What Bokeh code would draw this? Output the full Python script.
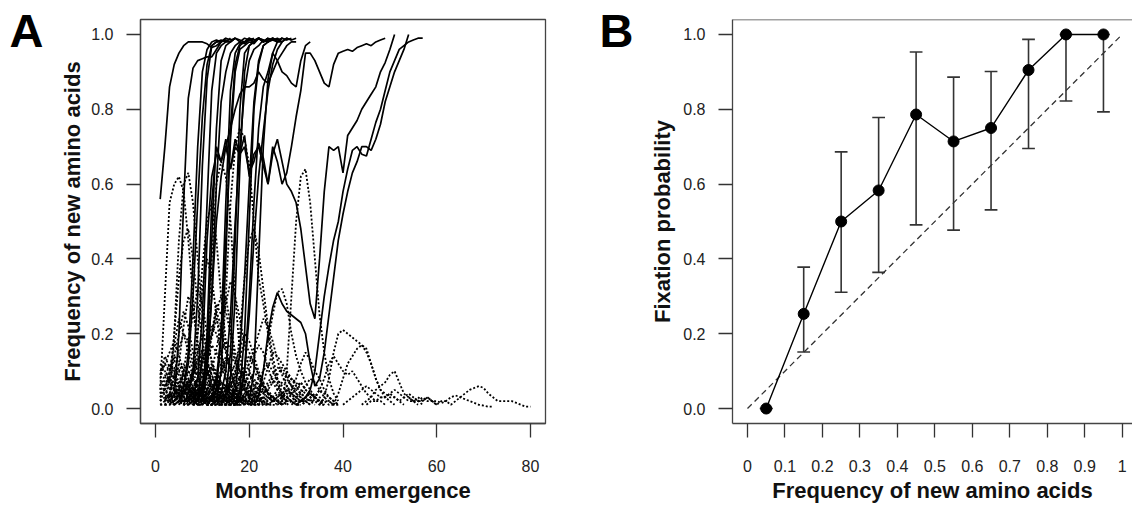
import numpy as np
from bokeh.plotting import figure
from bokeh.layouts import row
from bokeh.models import (FixedTicker, CustomJSTickFormatter, PrintfTickFormatter, Span,
                          LinearAxis)
from bokeh.embed import file_html
from bokeh.resources import INLINE

# ---------------- Panel A data ----------------
a_xticks = [0, 20, 40, 60, 80]
a_yticks = [0.0, 0.2, 0.4, 0.6, 0.8, 1.0]

# trajectories that reached fixation (solid): first month + monthly frequency
fixed_start = [1, 4, 5, 6, 7, 4, 8, 9, 9, 10, 10, 13, 15, 13, 17, 20, 21, 30, 11, 14, 16, 12, 17, 18]
fixed_freq = [
    [0.56, 0.70, 0.86, 0.92, 0.95, 0.97, 0.98, 0.98, 0.98, 0.98, 0.975, 0.965, 0.97, 0.98, 0.99],
    [0.03, 0.2, 0.55, 0.83, 0.91, 0.93, 0.935, 0.94, 0.94, 0.96, 0.98],
    [0.02, 0.05, 0.15, 0.4, 0.7, 0.9, 0.96, 0.98, 0.985, 0.98, 0.99, 0.985, 0.99],
    [0.01, 0.04, 0.1, 0.3, 0.65, 0.88, 0.97, 0.98, 0.98, 0.985, 0.98, 0.99],
    [0.02, 0.03, 0.08, 0.25, 0.55, 0.85, 0.95, 0.97, 0.98, 0.98, 0.99, 0.98, 0.99, 0.985, 0.99],
    [0.02, 0.04, 0.06, 0.12, 0.3, 0.55, 0.78, 0.92, 0.97, 0.98, 0.985, 0.98, 0.99],
    [0.01, 0.03, 0.06, 0.15, 0.45, 0.75, 0.93, 0.97, 0.98, 0.99, 0.985, 0.98, 0.99, 0.985, 0.99],
    [0.02, 0.05, 0.12, 0.3, 0.6, 0.82, 0.9, 0.95, 0.97, 0.98, 0.975, 0.985, 0.98, 0.99, 0.98, 0.99],
    [0.02, 0.15, 0.45, 0.62, 0.68, 0.66, 0.7, 0.64, 0.72, 0.68, 0.7, 0.63, 0.66, 0.71, 0.67,
     0.6, 0.68, 0.72, 0.66, 0.6, 0.58, 0.55, 0.48, 0.38, 0.28, 0.24, 0.4, 0.58, 0.7, 0.69,
     0.7, 0.63, 0.73, 0.75, 0.77, 0.8, 0.82, 0.84, 0.86, 0.9, 0.925, 0.96, 1.0],
    [0.02, 0.2, 0.55, 0.7, 0.66, 0.72, 0.64, 0.7, 0.68, 0.73, 0.62, 0.68, 0.7, 0.65, 0.6,
     0.7, 0.66, 0.6, 0.63, 0.7, 0.78, 0.85, 0.95, 0.95, 0.93, 0.9, 0.87, 0.86, 0.92, 0.95,
     0.955, 0.96, 0.955, 0.965, 0.97, 0.975, 0.97, 0.98, 0.985, 0.99],
    [0.02, 0.1, 0.3, 0.5, 0.62, 0.7, 0.75, 0.8, 0.84, 0.86, 0.86, 0.87, 0.9, 0.88, 0.87,
     0.9, 0.93, 0.95, 0.97, 0.98, 0.98],
    [0.02, 0.1, 0.4, 0.75, 0.92, 0.97, 0.98, 0.985, 0.98, 0.99, 0.98, 0.99],
    [0.02, 0.08, 0.3, 0.65, 0.9, 0.97, 0.98, 0.99, 0.985, 0.98, 0.99, 0.985, 0.99],
    [0.02, 0.04, 0.1, 0.25, 0.5, 0.7, 0.85, 0.93, 0.96, 0.97, 0.985, 0.98, 0.99],
    [0.01, 0.05, 0.2, 0.5, 0.8, 0.92, 0.97, 0.98, 0.99, 0.98, 0.99, 0.985, 0.99],
    [0.02, 0.1, 0.4, 0.7, 0.88, 0.95, 0.98, 0.98, 0.99, 0.985, 0.99],
    [0.01, 0.03, 0.1, 0.2, 0.27, 0.31, 0.28, 0.26, 0.25, 0.24, 0.23, 0.2, 0.12, 0.06, 0.08,
     0.15, 0.25, 0.35, 0.45, 0.52, 0.58, 0.63, 0.66, 0.7, 0.7, 0.69, 0.72, 0.76, 0.82, 0.86,
     0.9, 0.93, 0.96, 1.0],
    [0.01, 0.02, 0.03, 0.05, 0.1, 0.2, 0.3, 0.38, 0.45, 0.5, 0.58, 0.64, 0.69, 0.7, 0.68,
     0.675, 0.72, 0.765, 0.8, 0.85, 0.9, 0.93, 0.96, 0.97, 0.98, 0.985, 0.99, 0.99],
    [0.01, 0.03, 0.08, 0.2, 0.45, 0.72, 0.9, 0.96, 0.97, 0.98, 0.975, 0.99, 0.98, 0.99, 0.985, 0.99, 0.98],
    [0.01, 0.04, 0.15, 0.45, 0.8, 0.95, 0.97, 0.98, 0.99, 0.98, 0.985, 0.99, 0.98, 0.99],
    [0.02, 0.05, 0.15, 0.35, 0.6, 0.82, 0.93, 0.97, 0.98, 0.985, 0.98, 0.99, 0.985],
    [0.02, 0.05, 0.2, 0.55, 0.85, 0.95, 0.975, 0.98, 0.99, 0.98, 0.99, 0.985],
    [0.01, 0.03, 0.1, 0.25, 0.45, 0.62, 0.74, 0.85, 0.92, 0.96, 0.98, 0.99, 0.985],
    [0.02, 0.1, 0.3, 0.55, 0.75, 0.86, 0.9, 0.95, 0.93, 0.9, 0.89, 0.87, 0.86, 0.93, 0.97, 0.98],
]

# trajectories that were lost (dotted): first month + monthly frequency
lost_start = [1, 3, 13, 10, 27, 21, 35, 38, 44, 55, 54, 7, 16, 2,
              1, 1, 1, 2, 2, 3, 1, 3, 4, 5, 5, 6, 6, 7, 8, 8, 9, 10, 11, 12, 13, 14, 15, 16,
              18, 19, 21, 23, 25, 27, 2, 4, 7, 10, 9, 14, 20, 26, 30, 33, 40, 45, 5, 12, 17,
              1, 1, 1, 2, 2, 3, 3, 4, 4, 5, 6, 6, 7, 8, 8, 9, 10, 11, 12, 13, 14, 15, 16, 17,
              18, 20, 22, 24, 26, 28, 31, 1, 3, 6, 11, 2, 9, 1,
              1, 1, 1, 1, 2, 3, 4, 5, 6, 7, 8, 9, 10, 11, 12, 13, 15, 17, 19, 22, 25, 29, 1, 2, 3]
lost_freq = [
    [0.05, 0.3, 0.55, 0.6, 0.62, 0.58, 0.45, 0.3, 0.15, 0.08, 0.04, 0.02, 0.01],
    [0.02, 0.2, 0.45, 0.6, 0.63, 0.55, 0.4, 0.25, 0.12, 0.06, 0.03, 0.01],
    [0.02, 0.1, 0.3, 0.55, 0.7, 0.75, 0.72, 0.65, 0.5, 0.35, 0.28, 0.2, 0.12, 0.07, 0.03, 0.02],
    [0.02, 0.15, 0.4, 0.6, 0.66, 0.62, 0.5, 0.3, 0.15, 0.07, 0.03],
    [0.02, 0.1, 0.3, 0.5, 0.62, 0.64, 0.55, 0.4, 0.25, 0.15, 0.08, 0.04, 0.02],
    [0.02, 0.05, 0.1, 0.18, 0.25, 0.31, 0.32, 0.28, 0.2, 0.14, 0.1, 0.07, 0.05, 0.03, 0.02],
    [0.01, 0.03, 0.08, 0.15, 0.2, 0.21, 0.2, 0.19, 0.18, 0.17, 0.15, 0.12, 0.08, 0.05, 0.03, 0.02, 0.01],
    [0.01, 0.04, 0.08, 0.12, 0.14, 0.16, 0.17, 0.16, 0.12, 0.08, 0.05, 0.04, 0.03, 0.03, 0.02, 0.01],
    [0.01, 0.02, 0.03, 0.05, 0.06, 0.07, 0.09, 0.1, 0.07, 0.04, 0.03, 0.02, 0.02, 0.01],
    [0.02, 0.02, 0.03, 0.02, 0.02, 0.01, 0.02, 0.02, 0.01, 0.02, 0.03, 0.04, 0.05, 0.055,
     0.06, 0.055, 0.04, 0.03, 0.02, 0.02, 0.02, 0.02, 0.015, 0.01, 0.005, 0.005],
    [0.03, 0.02, 0.03, 0.02, 0.03, 0.02, 0.02, 0.015, 0.02, 0.03, 0.035, 0.03, 0.025, 0.02,
     0.015, 0.01, 0.008, 0.005, 0.005],
    [0.02, 0.08, 0.2, 0.38, 0.5, 0.55, 0.45, 0.3, 0.18, 0.1, 0.05, 0.02],
    [0.02, 0.08, 0.2, 0.35, 0.45, 0.48, 0.42, 0.32, 0.22, 0.14, 0.08, 0.04, 0.02],
    [0.02, 0.08, 0.2, 0.35, 0.45, 0.48, 0.4, 0.28, 0.18, 0.1, 0.05, 0.03],
    [0.02, 0.05, 0.08, 0.06, 0.04, 0.03, 0.02, 0.01],
    [0.03, 0.06, 0.1, 0.14, 0.12, 0.09, 0.06, 0.04, 0.03, 0.02, 0.01],
    [0.01, 0.02, 0.04, 0.03, 0.05, 0.07, 0.05, 0.03, 0.02, 0.02, 0.01, 0.01],
    [0.02, 0.04, 0.09, 0.16, 0.2, 0.18, 0.12, 0.08, 0.05, 0.03, 0.02],
    [0.01, 0.03, 0.05, 0.04, 0.02, 0.03, 0.04, 0.06, 0.05, 0.03, 0.02, 0.01],
    [0.02, 0.06, 0.12, 0.22, 0.3, 0.26, 0.18, 0.1, 0.06, 0.03, 0.02],
    [0.04, 0.08, 0.12, 0.1, 0.07, 0.08, 0.1, 0.08, 0.05, 0.03, 0.02, 0.01],
    [0.01, 0.02, 0.03, 0.05, 0.08, 0.1, 0.09, 0.07, 0.05, 0.04, 0.03, 0.02, 0.01],
    [0.02, 0.05, 0.1, 0.18, 0.25, 0.32, 0.28, 0.2, 0.12, 0.07, 0.04, 0.02],
    [0.01, 0.03, 0.06, 0.09, 0.13, 0.15, 0.12, 0.09, 0.06, 0.04, 0.02, 0.01],
    [0.02, 0.04, 0.07, 0.05, 0.04, 0.06, 0.08, 0.11, 0.09, 0.06, 0.04, 0.03, 0.02, 0.01],
    [0.01, 0.04, 0.1, 0.2, 0.32, 0.4, 0.35, 0.25, 0.15, 0.08, 0.04, 0.02],
    [0.02, 0.03, 0.05, 0.08, 0.12, 0.18, 0.22, 0.2, 0.15, 0.1, 0.07, 0.04, 0.02, 0.01],
    [0.01, 0.02, 0.04, 0.07, 0.1, 0.08, 0.06, 0.05, 0.06, 0.04, 0.03, 0.02],
    [0.02, 0.05, 0.09, 0.14, 0.19, 0.24, 0.2, 0.15, 0.1, 0.06, 0.04, 0.02, 0.01],
    [0.01, 0.02, 0.03, 0.04, 0.05, 0.07, 0.06, 0.05, 0.04, 0.03, 0.03, 0.02, 0.01],
    [0.02, 0.06, 0.12, 0.2, 0.28, 0.25, 0.3, 0.22, 0.15, 0.1, 0.06, 0.04, 0.02],
    [0.01, 0.03, 0.05, 0.08, 0.1, 0.12, 0.14, 0.12, 0.1, 0.08, 0.06, 0.04, 0.03, 0.02, 0.01],
    [0.02, 0.04, 0.08, 0.15, 0.18, 0.16, 0.13, 0.1, 0.08, 0.06, 0.04, 0.02],
    [0.01, 0.02, 0.04, 0.06, 0.09, 0.12, 0.16, 0.2, 0.18, 0.14, 0.1, 0.07, 0.04, 0.02, 0.01],
    [0.02, 0.03, 0.05, 0.07, 0.06, 0.08, 0.1, 0.09, 0.07, 0.05, 0.04, 0.03, 0.02],
    [0.01, 0.03, 0.06, 0.1, 0.14, 0.18, 0.15, 0.12, 0.09, 0.06, 0.04, 0.03, 0.02, 0.01],
    [0.02, 0.04, 0.06, 0.05, 0.07, 0.09, 0.08, 0.06, 0.05, 0.04, 0.03, 0.02, 0.02, 0.01],
    [0.01, 0.02, 0.05, 0.09, 0.12, 0.16, 0.2, 0.24, 0.22, 0.18, 0.13, 0.09, 0.06, 0.04, 0.02],
    [0.02, 0.03, 0.05, 0.06, 0.08, 0.1, 0.12, 0.1, 0.08, 0.06, 0.05, 0.04, 0.03, 0.02, 0.01],
    [0.01, 0.02, 0.04, 0.06, 0.05, 0.07, 0.09, 0.11, 0.1, 0.08, 0.06, 0.04, 0.03, 0.02, 0.01],
    [0.02, 0.04, 0.07, 0.11, 0.15, 0.14, 0.12, 0.1, 0.08, 0.06, 0.04, 0.03, 0.02, 0.01],
    [0.01, 0.02, 0.03, 0.05, 0.07, 0.09, 0.08, 0.06, 0.07, 0.05, 0.04, 0.03, 0.02, 0.01],
    [0.02, 0.03, 0.04, 0.06, 0.08, 0.07, 0.05, 0.04, 0.03, 0.02, 0.02, 0.01],
    [0.01, 0.02, 0.04, 0.05, 0.04, 0.03, 0.04, 0.03, 0.02, 0.02, 0.01, 0.01],
    [0.01, 0.01, 0.02, 0.03, 0.02, 0.02, 0.01, 0.02, 0.03, 0.02, 0.01, 0.01, 0.01],
    [0.01, 0.02, 0.01, 0.02, 0.03, 0.04, 0.03, 0.02, 0.01, 0.02, 0.02, 0.01, 0.01, 0.01],
    [0.02, 0.04, 0.08, 0.12, 0.16, 0.2, 0.26, 0.3, 0.26, 0.2, 0.13, 0.08, 0.05, 0.03, 0.01],
    [0.02, 0.05, 0.1, 0.16, 0.22, 0.28, 0.34, 0.3, 0.24, 0.17, 0.1, 0.06, 0.03, 0.01],
    [0.01, 0.01, 0.02, 0.02, 0.03, 0.03, 0.02, 0.02, 0.03, 0.02, 0.02, 0.01, 0.01, 0.01, 0.01],
    [0.01, 0.01, 0.02, 0.02, 0.01, 0.02, 0.03, 0.02, 0.02, 0.01, 0.01, 0.01],
    [0.01, 0.02, 0.02, 0.03, 0.03, 0.02, 0.02, 0.01, 0.02, 0.02, 0.01, 0.01],
    [0.01, 0.02, 0.03, 0.05, 0.08, 0.12, 0.15, 0.13, 0.1, 0.08, 0.05, 0.03, 0.02, 0.01],
    [0.01, 0.02, 0.02, 0.03, 0.04, 0.03, 0.02, 0.02, 0.01, 0.01],
    [0.02, 0.03, 0.05, 0.08, 0.12, 0.14, 0.12, 0.1, 0.09, 0.1, 0.08, 0.06, 0.04, 0.03, 0.02, 0.02, 0.01],
    [0.01, 0.02, 0.03, 0.04, 0.05, 0.06, 0.05, 0.04, 0.03, 0.03, 0.04, 0.05, 0.04, 0.03, 0.02, 0.02, 0.01],
    [0.01, 0.02, 0.02, 0.03, 0.03, 0.04, 0.03, 0.02, 0.03, 0.04, 0.03, 0.02, 0.02, 0.03, 0.02, 0.01],
    [0.01, 0.03, 0.06, 0.1, 0.15, 0.2, 0.17, 0.13, 0.08, 0.05, 0.03, 0.01],
    [0.02, 0.06, 0.1, 0.14, 0.12, 0.1, 0.07, 0.05, 0.04, 0.03, 0.02],
    [0.01, 0.03, 0.06, 0.1, 0.14, 0.17, 0.15, 0.11, 0.07, 0.05, 0.03, 0.02],
    [0.06, 0.09, 0.07, 0.05, 0.03, 0.02, 0.01],
    [0.1, 0.12, 0.15, 0.18, 0.14, 0.1, 0.06, 0.03, 0.01],
    [0.03, 0.04, 0.06, 0.05, 0.07, 0.09, 0.1, 0.08, 0.06, 0.04, 0.02],
    [0.05, 0.08, 0.11, 0.09, 0.06, 0.04, 0.05, 0.03, 0.02, 0.01],
    [0.02, 0.03, 0.02, 0.04, 0.06, 0.05, 0.04, 0.03, 0.04, 0.03, 0.02, 0.01],
    [0.04, 0.07, 0.05, 0.03, 0.02, 0.03, 0.02, 0.01],
    [0.01, 0.03, 0.06, 0.1, 0.12, 0.09, 0.11, 0.14, 0.1, 0.07, 0.04, 0.02, 0.01],
    [0.03, 0.05, 0.04, 0.06, 0.08, 0.06, 0.05, 0.03, 0.02, 0.02, 0.01],
    [0.01, 0.02, 0.04, 0.07, 0.1, 0.13, 0.16, 0.13, 0.09, 0.06, 0.03, 0.01],
    [0.02, 0.04, 0.03, 0.02, 0.04, 0.05, 0.07, 0.05, 0.04, 0.03, 0.02, 0.01],
    [0.03, 0.06, 0.09, 0.12, 0.1, 0.08, 0.06, 0.07, 0.05, 0.03, 0.02, 0.01],
    [0.01, 0.02, 0.03, 0.04, 0.03, 0.02, 0.03, 0.05, 0.04, 0.03, 0.02, 0.01],
    [0.02, 0.05, 0.08, 0.06, 0.09, 0.12, 0.1, 0.07, 0.05, 0.03, 0.02, 0.01],
    [0.03, 0.04, 0.06, 0.05, 0.03, 0.04, 0.03, 0.02, 0.02, 0.01],
    [0.01, 0.03, 0.07, 0.12, 0.17, 0.15, 0.11, 0.08, 0.05, 0.04, 0.02, 0.01],
    [0.02, 0.03, 0.05, 0.08, 0.07, 0.05, 0.06, 0.04, 0.03, 0.02, 0.01],
    [0.02, 0.04, 0.06, 0.05, 0.07, 0.06, 0.04, 0.03, 0.02, 0.02, 0.01],
    [0.01, 0.03, 0.05, 0.09, 0.13, 0.11, 0.08, 0.06, 0.05, 0.03, 0.02, 0.01],
    [0.03, 0.05, 0.04, 0.06, 0.05, 0.04, 0.03, 0.02, 0.02, 0.01],
    [0.01, 0.02, 0.04, 0.06, 0.09, 0.12, 0.1, 0.07, 0.05, 0.04, 0.02, 0.01],
    [0.02, 0.04, 0.03, 0.05, 0.07, 0.05, 0.03, 0.02, 0.01],
    [0.01, 0.03, 0.05, 0.08, 0.11, 0.14, 0.12, 0.09, 0.06, 0.04, 0.03, 0.02, 0.01],
    [0.02, 0.03, 0.04, 0.03, 0.05, 0.04, 0.03, 0.02, 0.01],
    [0.01, 0.02, 0.04, 0.06, 0.05, 0.07, 0.06, 0.04, 0.03, 0.02, 0.01],
    [0.02, 0.04, 0.07, 0.1, 0.08, 0.06, 0.05, 0.03, 0.02, 0.01],
    [0.01, 0.03, 0.05, 0.04, 0.06, 0.08, 0.06, 0.04, 0.03, 0.02, 0.01],
    [0.02, 0.03, 0.05, 0.07, 0.09, 0.11, 0.09, 0.06, 0.04, 0.03, 0.02, 0.01],
    [0.01, 0.02, 0.04, 0.03, 0.05, 0.04, 0.03, 0.02, 0.02, 0.01],
    [0.02, 0.03, 0.05, 0.06, 0.05, 0.07, 0.05, 0.04, 0.03, 0.02, 0.01],
    [0.01, 0.02, 0.03, 0.04, 0.06, 0.08, 0.07, 0.05, 0.03, 0.02, 0.01],
    [0.02, 0.03, 0.04, 0.03, 0.05, 0.04, 0.03, 0.02, 0.01],
    [0.01, 0.01, 0.02, 0.01, 0.02, 0.01, 0.01, 0.02, 0.01],
    [0.02, 0.01, 0.02, 0.02, 0.03, 0.02, 0.01, 0.01],
    [0.01, 0.02, 0.01, 0.01, 0.02, 0.02, 0.01, 0.01, 0.01],
    [0.01, 0.01, 0.02, 0.03, 0.02, 0.01, 0.01, 0.02, 0.01],
    [0.05, 0.1, 0.17, 0.24, 0.2, 0.15, 0.1, 0.06, 0.03, 0.01],
    [0.03, 0.07, 0.13, 0.2, 0.26, 0.22, 0.16, 0.1, 0.06, 0.03, 0.01],
    [0.08, 0.12, 0.1, 0.14, 0.2, 0.26, 0.22, 0.15, 0.09, 0.05, 0.02],
    [0.04, 0.05, 0.03, 0.04, 0.06, 0.05, 0.03, 0.02, 0.03, 0.02, 0.01, 0.01, 0.02, 0.01],
    [0.07, 0.06, 0.08, 0.05, 0.04, 0.05, 0.03, 0.02, 0.02, 0.01],
    [0.12, 0.1, 0.08, 0.09, 0.06, 0.04, 0.03, 0.02, 0.01],
    [0.02, 0.03, 0.04, 0.02, 0.03, 0.05, 0.04, 0.03, 0.05, 0.04, 0.03, 0.02, 0.02, 0.01, 0.01],
    [0.03, 0.02, 0.04, 0.05, 0.07, 0.06, 0.04, 0.05, 0.03, 0.02, 0.03, 0.02, 0.01],
    [0.02, 0.04, 0.03, 0.05, 0.04, 0.06, 0.08, 0.07, 0.05, 0.04, 0.03, 0.02, 0.01, 0.01],
    [0.01, 0.02, 0.02, 0.03, 0.04, 0.03, 0.05, 0.04, 0.03, 0.02, 0.03, 0.02, 0.01, 0.01, 0.01],
    [0.03, 0.05, 0.04, 0.03, 0.05, 0.06, 0.05, 0.04, 0.02, 0.03, 0.02, 0.01],
    [0.02, 0.03, 0.05, 0.04, 0.03, 0.04, 0.02, 0.03, 0.04, 0.03, 0.02, 0.01, 0.01],
    [0.01, 0.02, 0.03, 0.05, 0.04, 0.06, 0.05, 0.03, 0.04, 0.03, 0.02, 0.02, 0.01],
    [0.02, 0.04, 0.03, 0.02, 0.03, 0.05, 0.04, 0.03, 0.02, 0.02, 0.01, 0.01],
    [0.01, 0.02, 0.04, 0.05, 0.04, 0.03, 0.05, 0.06, 0.04, 0.03, 0.02, 0.01],
    [0.02, 0.03, 0.02, 0.04, 0.03, 0.02, 0.03, 0.04, 0.03, 0.02, 0.01, 0.01],
    [0.01, 0.03, 0.05, 0.07, 0.06, 0.04, 0.05, 0.03, 0.02, 0.02, 0.01],
    [0.02, 0.02, 0.03, 0.04, 0.03, 0.05, 0.04, 0.03, 0.02, 0.01, 0.01],
    [0.01, 0.02, 0.03, 0.02, 0.04, 0.03, 0.02, 0.03, 0.02, 0.01],
    [0.02, 0.03, 0.05, 0.04, 0.06, 0.05, 0.03, 0.02, 0.02, 0.01],
    [0.01, 0.02, 0.03, 0.04, 0.03, 0.02, 0.03, 0.02, 0.01, 0.01],
    [0.02, 0.03, 0.04, 0.03, 0.05, 0.04, 0.03, 0.02, 0.01],
    [0.01, 0.02, 0.03, 0.02, 0.03, 0.04, 0.03, 0.02, 0.01, 0.01],
    [0.02, 0.02, 0.03, 0.04, 0.03, 0.02, 0.02, 0.01],
    [0.01, 0.02, 0.02, 0.03, 0.02, 0.02, 0.01, 0.01],
    [0.09, 0.14, 0.11, 0.08, 0.1, 0.07, 0.05, 0.03, 0.02, 0.01],
    [0.06, 0.09, 0.13, 0.1, 0.12, 0.08, 0.06, 0.04, 0.02, 0.01],
    [0.05, 0.08, 0.06, 0.09, 0.07, 0.05, 0.04, 0.03, 0.02],
]

# ---------------- Panel B data ----------------
b_xticks = [0, 0.1, 0.2, 0.3, 0.4, 0.5, 0.6, 0.7, 0.8, 0.9, 1.0]
b_yticks = [0.0, 0.2, 0.4, 0.6, 0.8, 1.0]
b_freq_bin = [0.05, 0.15, 0.25, 0.35, 0.45, 0.55, 0.65, 0.75, 0.85, 0.95]
b_fix_prob = [0.0, 0.253, 0.5, 0.583, 0.786, 0.714, 0.75, 0.905, 1.0, 1.0]
b_lower = [0.0, 0.151, 0.311, 0.364, 0.491, 0.477, 0.531, 0.695, 0.822, 0.793]
b_upper = [0.0, 0.378, 0.686, 0.778, 0.953, 0.886, 0.901, 0.987, 1.0, 1.0]
b_neutral = [0.0, 1.0]

panel_letters = ["A", "B"]

FONT = "Liberation Sans"


def style(p, ylabel_standoff):
    p.grid.grid_line_color = None
    p.background_fill_color = "white"
    p.border_fill_color = "white"
    for ax in p.axis:
        ax.major_tick_in = 0
        ax.major_tick_out = 14
        ax.minor_tick_line_color = None
        ax.major_tick_line_color = "#333333"
        ax.major_tick_line_width = 1.3
        ax.axis_line_color = "#444444"
        ax.axis_line_width = 1.3
        ax.major_label_text_font = FONT
        ax.major_label_text_font_size = "16px"
        ax.major_label_text_color = "#222222"
        ax.axis_label_text_font = FONT
        ax.axis_label_text_font_style = "bold"
        ax.axis_label_text_font_size = "22px"
        ax.axis_label_text_color = "#111111"
    p.xaxis.major_label_standoff = 22
    p.yaxis.major_label_standoff = 13
    p.xaxis.axis_label_standoff = 3
    p.yaxis.axis_label_standoff = ylabel_standoff


def letter_axis(p, letter, standoff):
    ax = LinearAxis(ticker=FixedTicker(ticks=[1.028]),
                    formatter=CustomJSTickFormatter(code="return '%s';" % letter))
    ax.major_tick_in = 0
    ax.major_tick_out = 0
    ax.major_tick_line_color = None
    ax.minor_tick_line_color = None
    ax.axis_line_color = None
    ax.major_label_standoff = standoff
    ax.major_label_text_font = FONT
    ax.major_label_text_font_style = "bold"
    ax.major_label_text_font_size = "47px"
    ax.major_label_text_color = "black"
    p.add_layout(ax, "left")


# ---------------- Panel A ----------------
pa = figure(width=590, height=508, output_backend="svg", toolbar_location=None,
            x_range=(-3.2, 83.2), y_range=(-0.04, 1.04),
            min_border_left=140, min_border_right=45, min_border_top=19, min_border_bottom=85)
style(pa, 3)
pa.outline_line_color = "#444444"
pa.outline_line_width = 1.3
pa.xaxis.ticker = FixedTicker(ticks=a_xticks)
pa.yaxis.ticker = FixedTicker(ticks=a_yticks)
pa.yaxis.formatter = PrintfTickFormatter(format="%.1f")
pa.xaxis.axis_label = "Months from emergence"
pa.yaxis.axis_label = "Frequency of new amino acids"

lost_xs = [list(range(s, s + len(v))) for s, v in zip(lost_start, lost_freq)]
fixed_xs = [list(range(s, s + len(v))) for s, v in zip(fixed_start, fixed_freq)]
pa.multi_line(lost_xs, lost_freq, line_color="black", line_width=1.8, line_dash="2 2")
pa.multi_line(fixed_xs, fixed_freq, line_color="black", line_width=1.7)
letter_axis(pa, panel_letters[0], 14)

# ---------------- Panel B ----------------
pb = figure(width=542, height=508, output_backend="svg", toolbar_location=None,
            x_range=(-0.04, 1.0275), y_range=(-0.04, 1.04),
            min_border_left=142, min_border_right=0, min_border_top=19, min_border_bottom=85)
style(pb, 5)
pb.outline_line_color = None
pb.add_layout(Span(location=1.04, dimension="width", line_color="#444444", line_width=1.3))
pb.xaxis.ticker = FixedTicker(ticks=b_xticks)
pb.yaxis.ticker = FixedTicker(ticks=b_yticks)
pb.xaxis.formatter = CustomJSTickFormatter(code="return String(Math.round(tick*10)/10);")
pb.yaxis.formatter = PrintfTickFormatter(format="%.1f")
pb.xaxis.axis_label = "Frequency of new amino acids"
pb.yaxis.axis_label = "Fixation probability"

pb.line(b_neutral, b_neutral, line_color="#333333", line_width=1.3, line_dash="6 4")
cap = 0.017
xb = np.array(b_freq_bin)
pb.segment(xb, b_lower, xb, b_upper, line_color="#333333", line_width=1.6)
pb.segment(xb - cap, b_lower, xb + cap, b_lower, line_color="#333333", line_width=1.6)
pb.segment(xb - cap, b_upper, xb + cap, b_upper, line_color="#333333", line_width=1.6)
pb.line(b_freq_bin, b_fix_prob, line_color="black", line_width=1.4)
pb.scatter(b_freq_bin, b_fix_prob, size=11, color="black")
letter_axis(pb, panel_letters[1], 14)

layout = row(pa, pb, spacing=0)
open("out.html", "w").write(file_html(layout, INLINE))
